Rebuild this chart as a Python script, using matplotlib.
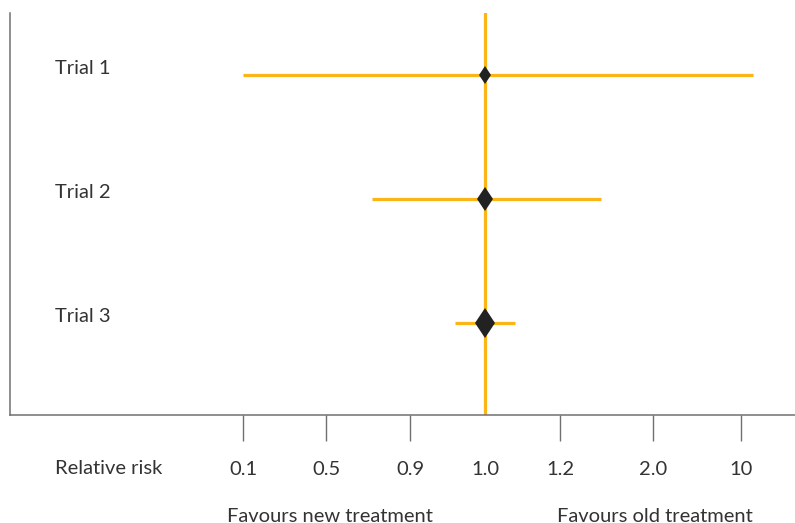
import numpy as np
import matplotlib.pyplot as plt
from matplotlib.markers import MarkerStyle
from matplotlib.transforms import Affine2D

# Forest plot data
trials = ["Trial 1", "Trial 2", "Trial 3"]
risk_ratio = [1.0, 1.0, 1.0]
ci_low = [0.1, 0.72, 0.96]
ci_high = [11.1, 1.55, 1.08]
tick_values = [0.1, 0.5, 0.9, 1.0, 1.2, 2.0, 10]
tick_labels = ["0.1", "0.5", "0.9", "1.0", "1.2", "2.0", "10"]

# Uneven axis: each tick value sits at its own slot position
slot_pos = [0.0, 0.994, 2.0, 2.9, 3.8, 4.91, 5.96]
vals_ext = np.array([-10.0] + tick_values + [100.0])
pos_ext = np.array([-25.25] + slot_pos + [5.96 + 90 / 8 * 1.05])


def forward(v):
    return np.interp(v, vals_ext, pos_ext)


def inverse(p):
    return np.interp(p, pos_ext, vals_ext)


ORANGE = "#FBB516"
DARK = "#222222"
TEXT = "#333333"
GREY = "#707070"
FONT = "Lato"
FS = 14.5

fig = plt.figure(figsize=(7.95, 5.23), dpi=100)
ax = fig.add_axes([10 / 795, 108 / 523, 785 / 795, 402 / 523])
ax.set_xscale("function", functions=(forward, inverse))

ypos = [3, 2, 1]
marker_sizes = [9.0, 12.0, 14.8]
diamond = MarkerStyle("d", transform=Affine2D().scale(1.17, 1.0))

ax.axvline(1.0, color=ORANGE, lw=2.3, zorder=1)
for y, rr, lo, hi, ms in zip(ypos, risk_ratio, ci_low, ci_high, marker_sizes):
    ax.hlines(y, lo, hi, color=ORANGE, lw=2.3, zorder=2)
    ax.plot(rr, y, marker=diamond, ms=ms, color=DARK, mec=DARK, mew=0, zorder=3)

ax.set_xlim(inverse(-2.79), inverse(6.61))
ax.set_ylim(0.26, 3.5)

for side in ("top", "right"):
    ax.spines[side].set_visible(False)
for side in ("left", "bottom"):
    ax.spines[side].set_color(GREY)
    ax.spines[side].set_linewidth(1.1)

ax.set_yticks([])
ax.set_xticks(tick_values)
ax.set_xticklabels(tick_labels, fontfamily=FONT, fontsize=FS, color=TEXT)
ax.xaxis.set_minor_locator(plt.NullLocator())
ax.tick_params(axis="x", length=19, width=1.0, color=GREY, pad=14)
# no grey tick under the reference line
ax.xaxis.get_major_ticks()[3].tick1line.set_visible(False)

for y, name in zip(ypos, trials):
    ax.text(45 / 785, y + 0.05, name, transform=ax.get_yaxis_transform(),
            fontsize=FS, fontfamily=FONT, color=TEXT, va="center", ha="left")

fig.text(55 / 795, 1 - 469 / 523, "Relative risk", fontsize=FS, fontfamily=FONT,
         color=TEXT, va="center", ha="left")
fig.text(330 / 795, 1 - 516 / 523, "Favours new treatment", fontsize=FS,
         fontfamily=FONT, color=TEXT, va="center", ha="center")
fig.text(655 / 795, 1 - 516 / 523, "Favours old treatment", fontsize=FS,
         fontfamily=FONT, color=TEXT, va="center", ha="center")

fig.savefig("out.png", dpi=100)
